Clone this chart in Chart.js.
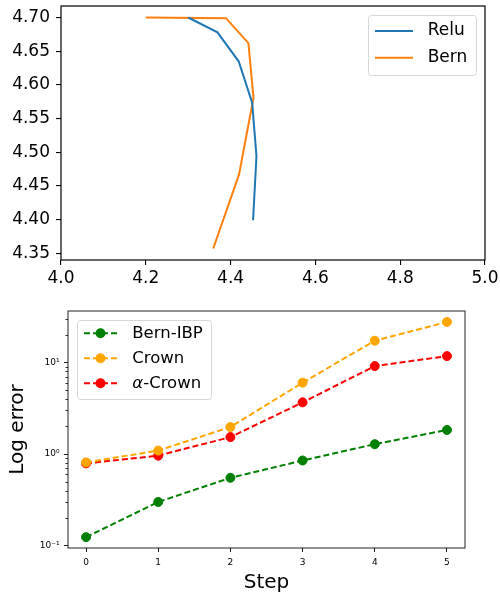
<!DOCTYPE html>
<html><head><meta charset="utf-8">
<script src="https://cdn.jsdelivr.net/npm/chart.js@4/dist/chart.umd.min.js"></script>
<style>
html,body{margin:0;padding:0;background:#fff;width:500px;height:597px;overflow:hidden}
canvas{position:absolute;left:0}
#top{top:0}#bot{top:290px}
</style></head>
<body>
<canvas id="top" width="500" height="290"></canvas>
<canvas id="bot" width="500" height="307"></canvas>
<script>
// ---- Top panel data ----
const reluX = [4.300, 4.369, 4.419, 4.451, 4.461, 4.453];
const reluY = [4.700, 4.678, 4.635, 4.573, 4.494, 4.399];
const bernX = [4.200, 4.389, 4.442, 4.454, 4.420, 4.359];
const bernY = [4.700, 4.699, 4.662, 4.581, 4.467, 4.357];
const topXTicks = [4.0, 4.2, 4.4, 4.6, 4.8, 5.0];
const topYTicks = [4.35, 4.40, 4.45, 4.50, 4.55, 4.60, 4.65, 4.70];

// ---- Bottom panel data ----
const steps = [0, 1, 2, 3, 4, 5];
const bernIBP = [0.124, 0.30, 0.55, 0.85, 1.28, 1.83];
const crown = [0.81, 1.09, 1.97, 6.0, 17.2, 27.6];
const alphaCrown = [0.79, 0.96, 1.53, 3.66, 9.1, 11.7];
const botYMajor = [0.1, 1, 10];
const botYMajorLabels = ['10\u207B\u00B9', '10\u2070', '10\u00B9'];
const botYMinor = [0.2,0.3,0.4,0.5,0.6,0.7,0.8,0.9,2,3,4,5,6,7,8,9,20,30];

const FONT = "'DejaVu Sans', sans-serif";

const framePlugin = {
  id: 'frame',
  afterDatasetsDraw(chart, args, opts) {
    const a = chart.chartArea, c = chart.ctx;
    c.save();
    c.strokeStyle = opts.color || '#000';
    c.lineWidth = opts.width || 1;
    c.strokeRect(a.left, a.top, a.right - a.left, a.bottom - a.top);
    if (opts.minor) {
      const s = chart.scales.y;
      c.lineWidth = 0.8;
      c.strokeStyle = '#000';
      opts.minor.forEach(v => {
        const y = Math.round(s.getPixelForValue(v)) + 0.5;
        c.beginPath(); c.moveTo(a.left - opts.minorLen, y); c.lineTo(a.left, y); c.stroke();
      });
    }
    c.restore();
  }
};

const legendPlugin = {
  id: 'boxLegend',
  afterDraw(chart, args, o) {
    const c = chart.ctx;
    c.save();
    const [x0, y0, x1, y1] = o.box;
    const r = 3;
    c.beginPath();
    c.moveTo(x0 + r, y0); c.lineTo(x1 - r, y0); c.quadraticCurveTo(x1, y0, x1, y0 + r);
    c.lineTo(x1, y1 - r); c.quadraticCurveTo(x1, y1, x1 - r, y1);
    c.lineTo(x0 + r, y1); c.quadraticCurveTo(x0, y1, x0, y1 - r);
    c.lineTo(x0, y0 + r); c.quadraticCurveTo(x0, y0, x0 + r, y0);
    c.closePath();
    c.fillStyle = 'rgba(255,255,255,0.8)'; c.fill();
    c.strokeStyle = '#d6d6d6'; c.lineWidth = 1; c.stroke();
    chart.data.datasets.forEach((ds, i) => {
      const y = o.rows[i];
      c.strokeStyle = ds.borderColor;
      c.lineWidth = ds.borderWidth;
      c.setLineDash(ds.borderDash || []);
      c.beginPath(); c.moveTo(o.sx0, y); c.lineTo(o.sx1, y); c.stroke();
      c.setLineDash([]);
      if (ds.pointRadius) {
        c.fillStyle = ds.borderColor;
        c.beginPath(); c.arc((o.sx0 + o.sx1) / 2, y, ds.pointRadius + 0.5, 0, Math.PI * 2); c.fill();
      }
      c.fillStyle = '#000';
      c.textBaseline = 'middle';
      c.textAlign = 'left';
      let tx = o.tx;
      let label = ds.label;
      if (label.startsWith('\u03B1')) {
        c.font = 'italic ' + o.size + 'px ' + FONT;
        c.fillText('\u03B1', tx, y);
        tx += c.measureText('\u03B1').width;
        label = label.slice(1);
      }
      c.font = o.size + 'px ' + FONT;
      c.fillText(label, tx, y);
    });
    c.restore();
  }
};

const fixX = h => s => { s.height = h; s.paddingLeft = 0; s.paddingRight = 0; };
const fixY = w => s => { s.width = w; s.paddingTop = 0; s.paddingBottom = 0; };

// ---------- Top chart ----------
new Chart(document.getElementById('top'), {
  type: 'scatter',
  data: {
    datasets: [
      { label: 'Relu', data: reluX.map((x, i) => ({ x, y: reluY[i] })), showLine: true,
        borderColor: '#1f77b4', backgroundColor: '#1f77b4', borderWidth: 2, pointRadius: 0 },
      { label: 'Bern', data: bernX.map((x, i) => ({ x, y: bernY[i] })), showLine: true,
        borderColor: '#ff7f0e', backgroundColor: '#ff7f0e', borderWidth: 2, pointRadius: 0 }
    ]
  },
  options: {
    responsive: false, animation: false, devicePixelRatio: 1,
    layout: { padding: { left: 0, top: 6, right: 15, bottom: 0 } },
    plugins: {
      legend: { display: false }, tooltip: { enabled: false },
      frame: { color: '#000', width: 1.2 },
      boxLegend: { box: [368.5, 15.5, 476.5, 75.5], rows: [31, 57.7], sx0: 375, sx1: 413, tx: 427.7, size: 17 }
    },
    scales: {
      x: {
        type: 'linear', min: 4.0, max: 5.0,
        afterBuildTicks: s => { s.ticks = topXTicks.map(v => ({ value: v })); },
        afterFit: fixX(30),
        border: { display: false },
        grid: { drawOnChartArea: false, drawTicks: true, tickLength: 5, color: '#000', lineWidth: 1.1 },
        ticks: { autoSkip: false, maxRotation: 0, padding: 3, color: '#000', font: { family: FONT, size: 17 },
          callback: v => Number(v).toFixed(1) }
      },
      y: {
        type: 'linear', min: 4.3399, max: 4.7171,
        afterBuildTicks: s => { s.ticks = topYTicks.map(v => ({ value: v })); },
        afterFit: fixY(61),
        border: { display: false },
        grid: { drawOnChartArea: false, drawTicks: true, tickLength: 5, color: '#000', lineWidth: 1.1 },
        ticks: { autoSkip: false, padding: 6, color: '#000', font: { family: FONT, size: 17 },
          callback: v => Number(v).toFixed(2) }
      }
    }
  },
  plugins: [framePlugin, legendPlugin]
});

// ---------- Bottom chart ----------
const mk = (label, vals, color) => ({
  label, data: steps.map((s, i) => ({ x: s, y: vals[i] })), showLine: true,
  borderColor: color, backgroundColor: color, pointBackgroundColor: color, pointBorderColor: color,
  borderWidth: 2, borderDash: [6, 3], pointRadius: 4.5, pointBorderWidth: 1
});

new Chart(document.getElementById('bot'), {
  type: 'scatter',
  data: {
    datasets: [
      mk('Bern-IBP', bernIBP, '#008000'),
      mk('Crown', crown, '#ffa500'),
      mk('\u03B1-Crown', alphaCrown, '#ff0000')
    ]
  },
  options: {
    responsive: false, animation: false, devicePixelRatio: 1,
    layout: { padding: { left: 0, top: 21, right: 35, bottom: 0 } },
    plugins: {
      legend: { display: false }, tooltip: { enabled: false },
      frame: { color: '#222', width: 1, minor: botYMinor, minorLen: 2.5 },
      boxLegend: { box: [77.5, 30.5, 211.5, 109.5], rows: [43.3, 68.3, 93.3], sx0: 84, sx1: 117, tx: 132.3, size: 16.5 }
    },
    scales: {
      x: {
        type: 'linear', min: -0.25, max: 5.25,
        afterBuildTicks: s => { s.ticks = steps.map(v => ({ value: v })); },
        afterFit: fixX(49),
        border: { display: false },
        grid: { drawOnChartArea: false, drawTicks: true, tickLength: 4, color: '#000', lineWidth: 0.9 },
        ticks: { autoSkip: false, maxRotation: 0, padding: 5, color: '#000', font: { family: FONT, size: 9 } },
        title: { display: true, text: 'Step', color: '#000', font: { family: FONT, size: 20 }, padding: { top: 0, bottom: 2 } }
      },
      y: {
        type: 'logarithmic', min: 0.0944, max: 36.3,
        afterBuildTicks: s => { s.ticks = botYMajor.map(v => ({ value: v })); },
        afterFit: fixY(68),
        border: { display: false },
        grid: { drawOnChartArea: false, drawTicks: true, tickLength: 4, color: '#000', lineWidth: 0.9 },
        ticks: { autoSkip: false, padding: 4.5, color: '#000', font: { family: FONT, size: 9 },
          callback: v => { const i = botYMajor.indexOf(Number(v)); return i >= 0 ? botYMajorLabels[i] : ''; } },
        title: { display: true, text: 'Log error', color: '#000', font: { family: FONT, size: 20 }, padding: { top: 6, bottom: 0 } }
      }
    }
  },
  plugins: [framePlugin, legendPlugin]
});
</script>
</body></html>
